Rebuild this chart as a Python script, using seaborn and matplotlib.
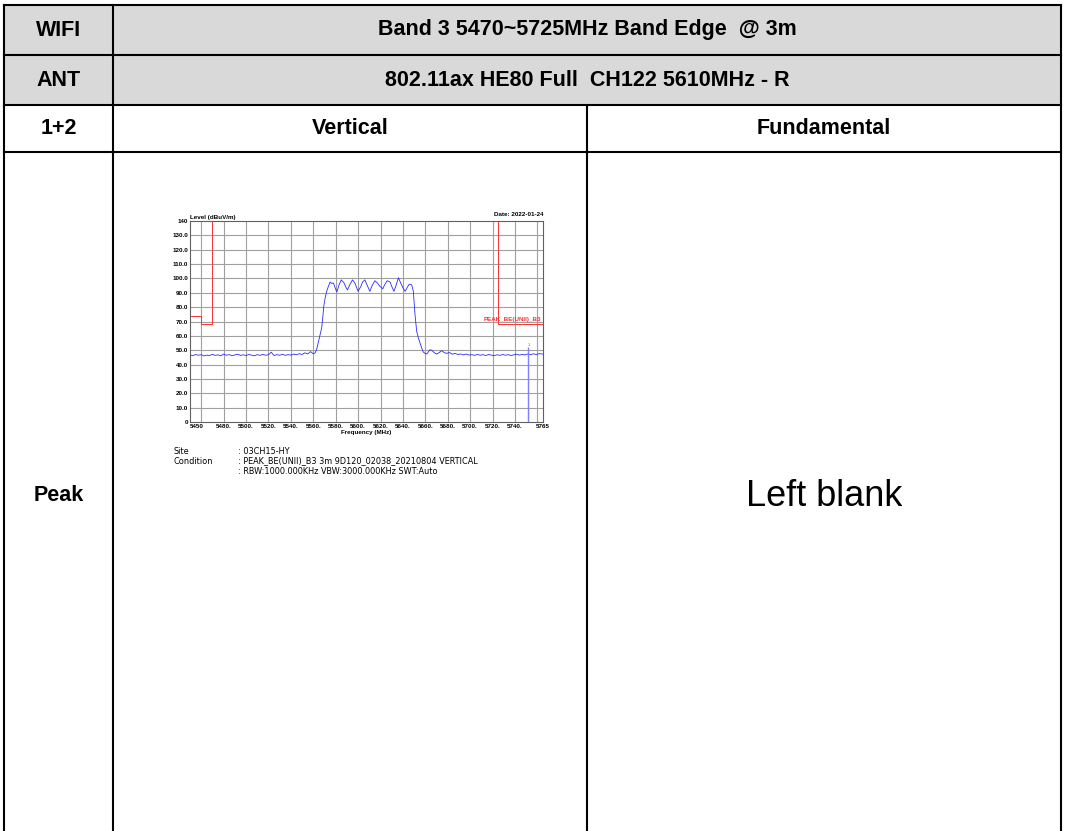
import numpy as np
import pandas as pd
import seaborn as sns
import matplotlib.pyplot as plt
from matplotlib.patches import Rectangle

sns.set_style("white")
plt.rcParams['font.family'] = ['Liberation Sans', 'DejaVu Sans']
plt.rcParams['text.color'] = 'black'
plt.rcParams['axes.labelcolor'] = 'black'
plt.rcParams['xtick.color'] = 'black'
plt.rcParams['ytick.color'] = 'black'

# 表格文字
row_heads = ['WIFI', 'ANT', '1+2', 'Peak']
band_title = 'Band 3 5470~5725MHz Band Edge  @ 3m'
ant_title = '802.11ax HE80 Full  CH122 5610MHz - R'
col_heads = ['Vertical', 'Fundamental']
blank_text = 'Left blank'

# 频谱曲线
freq = [5450, 5452.5, 5455, 5457.5, 5460, 5462.5, 5465, 5467.5, 5470, 5472.5,
        5475, 5477.5, 5480, 5482.5, 5485, 5487.5, 5490, 5492.5, 5495, 5497.5,
        5500, 5502.5, 5505, 5507.5, 5510, 5512.5, 5515, 5517.5, 5520, 5522.5,
        5525, 5527.5, 5530, 5532.5, 5535, 5537.5, 5540, 5542.5, 5545, 5547.5,
        5550, 5552.5, 5555, 5557.5, 5560, 5561.5, 5563, 5564.5, 5566, 5567.5,
        5568.5, 5569.5, 5571, 5572, 5573.5, 5575, 5576.5, 5578, 5579.5, 5581,
        5583, 5585, 5587.5, 5589, 5590.5, 5592.5, 5595, 5597, 5598.5, 5600,
        5602.5, 5604, 5606, 5608, 5610.5, 5612.5, 5615, 5617, 5619.5, 5622,
        5624, 5626, 5628.5, 5630, 5632, 5634, 5636, 5638, 5640, 5642,
        5644, 5645.7, 5647.8, 5649.3, 5650.8, 5652.3, 5653.8, 5655.3, 5656.8, 5658.2,
        5659.7, 5661.2, 5662.5, 5664, 5665.7, 5667, 5668.5, 5670, 5672, 5674.6,
        5677, 5679, 5681.5, 5684, 5686.5, 5689, 5691.5, 5694, 5696.5, 5699,
        5701.5, 5704, 5706.5, 5709, 5711.5, 5714, 5716.5, 5719, 5721.5, 5724,
        5726.5, 5729, 5731.5, 5734, 5736.5, 5739, 5741.5, 5744, 5746.5, 5749,
        5751.5, 5754, 5756.5, 5759, 5761.5, 5765]
level = [46.8, 46.2, 47.0, 46.5, 46.9, 46.0, 46.6, 46.3, 47.1, 46.4,
         46.8, 46.1, 47.3, 46.5, 46.9, 46.2, 46.7, 47.2, 46.4, 46.8,
         46.3, 47.0, 46.6, 46.1, 46.9, 46.4, 47.1, 46.5, 46.8, 48.6,
         46.3, 46.9, 46.5, 47.2, 46.4, 46.9, 46.6, 47.3, 46.8, 47.6,
         47.0, 48.2, 47.4, 49.0, 47.6, 48.0, 50.5, 55.5, 60.5, 65.5,
         73.0, 81.5, 88.0, 91.0, 94.5, 97.5, 96.5, 96.8, 93.5, 90.5,
         95.5, 99.0, 96.8, 94.0, 92.0, 95.5, 99.0, 97.0, 94.0, 91.0,
         94.5, 97.5, 99.0, 95.5, 91.0, 95.0, 98.4, 97.0, 94.5, 92.8,
         96.0, 98.4, 97.5, 94.5, 91.0, 95.5, 100.5, 96.8, 93.5, 91.0,
         94.0, 96.0, 95.6, 91.0, 74.7, 63.0, 58.5, 55.0, 51.5, 48.7,
         47.8, 47.4, 48.6, 50.3, 50.0, 49.0, 48.0, 47.3, 48.2, 49.7,
         48.3, 47.8, 48.4, 47.2, 47.8, 47.0, 47.4, 46.8, 47.3, 46.6,
         46.9, 46.4, 47.1, 46.5, 46.9, 46.3, 47.0, 46.6, 46.2, 46.8,
         46.4, 47.0, 46.5, 46.9, 46.3, 46.8, 47.2, 46.6, 47.1, 46.7,
         47.4, 46.9, 47.5, 47.0, 47.6, 47.3]

# 限值线
limit1_freq = [5450, 5460, 5460, 5470, 5470]
limit1_level = [74, 74, 68.2, 68.2, 140]
limit2_freq = [5725, 5725, 5765]
limit2_level = [140, 68.2, 68.2]
limit_name = 'PEAK_BE(UNII)_B3'

marker_freq = 5752
marker_level = 52.5

grid_x = list(range(5460, 5761, 20))
x_ticks = [5450, 5480, 5500, 5520, 5540, 5560, 5580, 5600, 5620, 5640,
           5660, 5680, 5700, 5720, 5740, 5765]
x_labels = ['5450', '5480.', '5500.', '5520.', '5540.', '5560.', '5580.', '5600.',
            '5620.', '5640.', '5660.', '5680.', '5700.', '5720.', '5740.', '5765']
y_ticks = list(range(0, 141, 10))
y_labels = ['0', '10.0', '20.0', '30.0', '40.0', '50.0', '60.0', '70.0', '80.0',
            '90.0', '100.0', '110.0', '120.0', '130.0', '140']

info_keys = ['Site', 'Condition', '']
info_vals = [': 03CH15-HY',
             ': PEAK_BE(UNII)_B3 3m 9D120_02038_20210804 VERTICAL',
             ': RBW:1000.000KHz VBW:3000.000KHz SWT:Auto']

W, H = 1065, 831
fig = plt.figure(figsize=(W / 100, H / 100), dpi=100)

# ---------- 表格 ----------
tab = fig.add_axes([0, 0, 1, 1])
tab.set_xlim(0, W)
tab.set_ylim(H, 0)
tab.axis('off')

x0, x1, x2, x3 = 4, 113, 587, 1061
y0, y1, y2, y3 = 5, 55, 105, 152
tab.add_patch(Rectangle((x0, y0), x3 - x0, y2 - y0, fc='#d9d9d9', ec='none'))
lw = 1.5
for y in [y0, y1, y2, y3]:
    tab.plot([x0, x3], [y, y], color='black', lw=lw, solid_capstyle='projecting')
for x in [x0, x1, x3]:
    tab.plot([x, x], [y0, H], color='black', lw=lw, solid_capstyle='projecting')
tab.plot([x2, x2], [y2, H], color='black', lw=lw)

fs = 15.5
mid = (x0 + x1) / 2
row_y = [(y0 + y1) / 2, (y1 + y2) / 2, (y2 + y3) / 2, (y3 + H) / 2]
for name, y in zip(row_heads[:3], row_y[:3]):
    tab.text(mid, y, name, ha='center', va='center', fontsize=fs, fontweight='bold')
tab.text(mid, row_y[3] + 4, row_heads[3], ha='center', va='center', fontsize=fs, fontweight='bold')
tab.text((x1 + x3) / 2, row_y[0], band_title, ha='center', va='center', fontsize=fs, fontweight='bold')
tab.text((x1 + x3) / 2, row_y[1], ant_title, ha='center', va='center', fontsize=fs, fontweight='bold')
tab.text((x1 + x2) / 2, row_y[2], col_heads[0], ha='center', va='center', fontsize=fs, fontweight='bold')
tab.text((x2 + x3) / 2, row_y[2], col_heads[1], ha='center', va='center', fontsize=fs, fontweight='bold')
tab.text((x2 + x3) / 2, row_y[3] + 5, blank_text, ha='center', va='center', fontsize=26)

# ---------- 频谱图 ----------
ax_l, ax_r, ax_t, ax_b = 190, 543, 221, 422
ax = fig.add_axes([ax_l / W, 1 - ax_b / H, (ax_r - ax_l) / W, (ax_b - ax_t) / H])
ax.set_xlim(5450, 5765)
ax.set_ylim(0, 140)
for g in grid_x:
    ax.axvline(g, color='#a0a0a0', lw=0.8, zorder=0)
for g in y_ticks[1:-1]:
    ax.axhline(g, color='#a0a0a0', lw=0.8, zorder=0)

df = pd.DataFrame({'freq': freq, 'level': level})
sns.lineplot(data=df, x='freq', y='level', ax=ax, color='#2b2bff', lw=0.6, sort=False, estimator=None)
sns.lineplot(x=limit1_freq, y=limit1_level, ax=ax, color='#ff3030', lw=0.7, sort=False, estimator=None)
sns.lineplot(x=limit2_freq, y=limit2_level, ax=ax, color='#ff3030', lw=0.7, sort=False, estimator=None)
ax.vlines(marker_freq, 0, marker_level, color='#7f7fff', lw=1.0)
ax.text(marker_freq, marker_level, '1', color='#5050ff', fontsize=3, ha='center', va='bottom')
ax.text(5763, 69.5, limit_name, color='#ff3030', fontsize=4.5, fontweight='bold', ha='right', va='bottom')

ax.set_xticks(x_ticks)
ax.set_xticklabels(x_labels)
ax.set_yticks(y_ticks)
ax.set_yticklabels(y_labels)
ax.tick_params(length=0, pad=1.5, labelsize=4.5)
for t in ax.get_xticklabels() + ax.get_yticklabels():
    t.set_fontweight('bold')
ax.get_xticklabels()[0].set_ha('left')
ax.set_xlabel('Frequency (MHz)', fontsize=4.5, fontweight='bold', labelpad=0.8)
ax.set_ylabel('')
for s in ax.spines.values():
    s.set_color('#606060')
    s.set_linewidth(0.8)
ax.text(0.0, 1.005, 'Level (dBuV/m)', transform=ax.transAxes, fontsize=4.5, fontweight='bold', ha='left', va='bottom')
ax.text(1.0, 1.02, 'Date: 2022-01-24', transform=ax.transAxes, fontsize=4.5, fontweight='bold', ha='right', va='bottom')

for i, (k, v) in enumerate(zip(info_keys, info_vals)):
    yy = 451 + i * 10
    tab.text(173, yy, k, fontsize=5.9, family='DejaVu Sans', ha='left', va='center')
    tab.text(238, yy, v, fontsize=5.9, family='DejaVu Sans', ha='left', va='center')

fig.savefig('out.png', dpi=100)
